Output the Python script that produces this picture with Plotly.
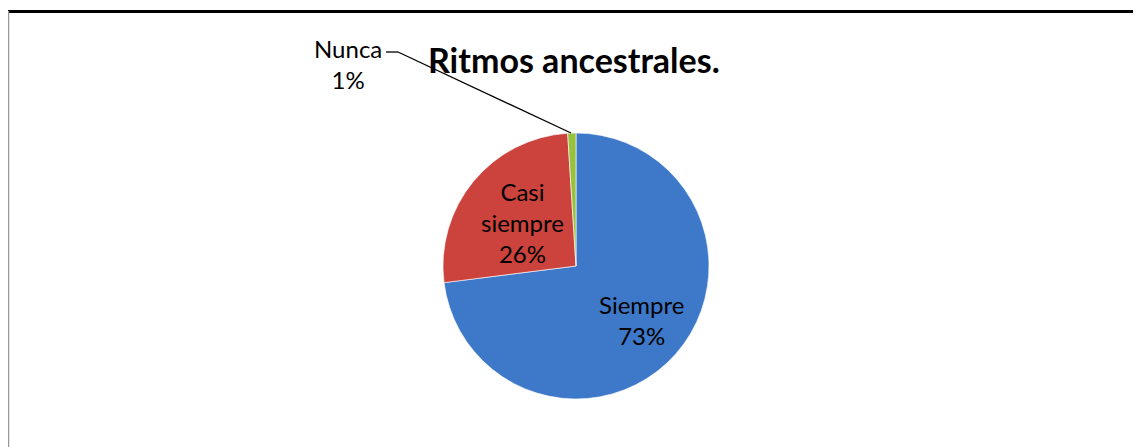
import plotly.graph_objects as go

labels = ["Siempre", "Casi siempre", "Nunca"]
values = [73, 26, 1]
colors = ["#3D79C8", "#CC423D", "#98C13F"]
title = "Ritmos ancestrales."

W, H = 1141, 447
OFF = 8  # page body margin
cx, cy, r = 576, 266, 133

def px(x, y):
    return (x - OFF) / W, 1 - (y - OFF) / H

d0 = px(cx - r, cy + r)
d1 = px(cx + r, cy - r)

fig = go.Figure(go.Pie(
    labels=labels, values=values, sort=False, direction="clockwise", rotation=0,
    marker=dict(colors=colors, line=dict(color="rgba(255,255,255,0.6)", width=1)),
    textinfo="none", hoverinfo="label+percent", showlegend=False,
    domain=dict(x=[d0[0], d1[0]], y=[d0[1], d1[1]]),
))

font = dict(family="Lato, Carlito, Calibri, sans-serif", size=24, color="#000000")

ann = []
for txt, (x, y) in [
    ("Siempre<br>73%", (641, 320)),
    ("Casi<br>siempre<br>26%", (522, 222)),
    ("Nunca<br>1%", (348, 64)),
]:
    ax, ay = px(x, y)
    ann.append(dict(text=txt, x=ax, y=ay, xref="paper", yref="paper", showarrow=False,
                    font=font, align="center", xanchor="center", yanchor="middle"))

tx, ty = px(574, 60)
ann.append(dict(text="<b>" + title + "</b>", x=tx, y=ty, xref="paper", yref="paper",
                showarrow=False, xanchor="center", yanchor="middle",
                font=dict(family="Lato, Carlito, Calibri, sans-serif", size=34, color="#000000")))

shapes = []
# leader line for Nunca
pts = [(386, 52), (398, 52), (571, 133)]
for (x0, y0), (x1, y1) in zip(pts[:-1], pts[1:]):
    a0, b0 = px(x0, y0)
    a1, b1 = px(x1, y1)
    shapes.append(dict(type="line", xref="paper", yref="paper", x0=a0, y0=b0, x1=a1, y1=b1,
                       line=dict(color="#000000", width=1.3)))
# chart frame
a0, b0 = px(8, 11.5)
a1, b1 = px(1149, 11.5)
shapes.append(dict(type="line", xref="paper", yref="paper", x0=a0, y0=b0, x1=a1, y1=b1,
                   line=dict(color="#000000", width=3)))
a0, b0 = px(8.5, 11)
a1, b1 = px(8.5, 455)
shapes.append(dict(type="line", xref="paper", yref="paper", x0=a0, y0=b0, x1=a1, y1=b1,
                   line=dict(color="#999999", width=1.5)))
a0, b0 = px(1140.5, 13)
a1, b1 = px(1140.5, 455)
shapes.append(dict(type="line", xref="paper", yref="paper", x0=a0, y0=b0, x1=a1, y1=b1,
                   line=dict(color="#E6E6E6", width=1)))

fig.update_layout(
    width=W, height=H, margin=dict(l=0, r=0, t=0, b=0),
    paper_bgcolor="#FFFFFF", plot_bgcolor="#FFFFFF",
    annotations=ann, shapes=shapes,
)

fig.write_html("out.html", config={"displayModeBar": False})
